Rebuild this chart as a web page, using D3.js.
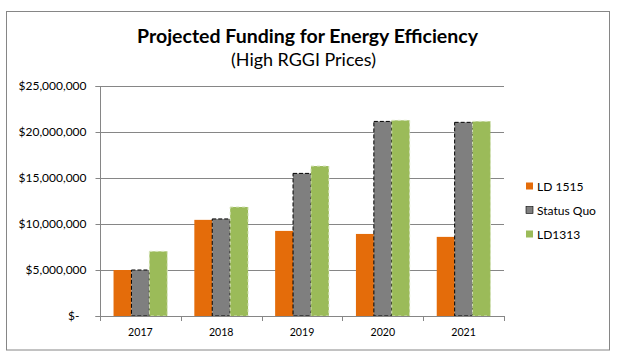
<!DOCTYPE html>
<html>
<head>
<meta charset="utf-8">
<script src="https://cdn.jsdelivr.net/npm/d3@7"></script>
<style>
  body { margin: 0; background: #fff; }
  svg { display: block; }
  text { font-family: Lato, "Liberation Sans", Arial, sans-serif; fill: #000; }
</style>
</head>
<body>
<svg id="chart" width="620" height="357"></svg>
<script>
const years = ["2017", "2018", "2019", "2020", "2021"];
const seriesNames = ["LD 1515", "Status Quo", "LD1313"];
const ld1515 = [5000000, 10450000, 9250000, 8920000, 8600000];
const statusQuo = [5000000, 10550000, 15500000, 21150000, 21050000];
const ld1313 = [7030000, 11850000, 16300000, 21270000, 21160000];
const yTicks = [0, 5000000, 10000000, 15000000, 20000000, 25000000];
const colors = ["#E46C0A", "#7F7F7F", "#9BBB59"];
const strokes = ["none", "#000000", "#D7E4BD"];

const seriesValues = [ld1515, statusQuo, ld1313];

(function () {
const svg = d3.select("#chart");
const pLeft = 100, pRight = 504, pTop = 86, pBottom = 316;
const FONT = "Lato, 'Liberation Sans', Arial, sans-serif";

// measure helper: font size that makes `str` as wide as `target`
function fitSize(str, target, weight) {
  const t = svg.append("text").attr("font-size", 20).attr("font-family", FONT)
    .attr("font-weight", weight || "normal").text(str);
  const w = t.node().getComputedTextLength();
  t.remove();
  return 20 * target / w;
}
const axisSize = fitSize("$25,000,000", 68);
const legSize = fitSize("Status Quo", 59);
const yearSize = fitSize("2017", 24.6);

// outer frame
svg.append("rect").attr("x", 6.5).attr("y", 11.5).attr("width", 603).attr("height", 338.5)
  .attr("fill", "#fff").attr("stroke", "#868686").attr("stroke-width", 1);

const x0 = d3.scaleBand().domain(years).range([pLeft, pRight]).padding(0);
const groupW = x0.bandwidth() * 0.665;
const x1 = d3.scaleBand().domain(seriesNames).range([0, groupW]).padding(0);
const y = d3.scaleLinear().domain([0, 25000000]).range([pBottom, pTop]);

// gridlines
svg.append("g").selectAll("line").data(yTicks.slice(1)).join("line")
  .attr("x1", pLeft).attr("x2", pRight)
  .attr("y1", d => Math.round(y(d)) + 0.5).attr("y2", d => Math.round(y(d)) + 0.5)
  .attr("stroke", "#868686").attr("stroke-width", 1);

// y axis
const fmt = d => d === 0 ? "$-" : "$" + d3.format(",")(d);
const yAxis = d3.axisLeft(y).tickValues(yTicks).tickFormat(fmt).tickSize(5).tickPadding(9);
const gy = svg.append("g").attr("transform", `translate(${pLeft + 0.5},0)`).call(yAxis);
gy.select(".domain").attr("stroke", "#868686").attr("d", `M-5,${pTop}.5H0V${pBottom}.5H-5`);
gy.selectAll(".tick line").attr("stroke", "#868686");
gy.selectAll(".tick text").attr("font-size", axisSize)
  .attr("font-family", FONT).attr("fill", "#000")
  .attr("dx", d => d === 0 ? -7 : 0);
gy.selectAll(".tick").attr("transform", d => `translate(0,${Math.round(y(d)) + 0.5})`);

// bars
const groups = svg.append("g").selectAll("g").data(years).join("g")
  .attr("transform", d => `translate(${x0(d) + (x0.bandwidth() - groupW) / 2},0)`);
groups.selectAll("rect").data((d, i) => seriesNames.map((s, j) => ({s, j, v: seriesValues[j][i]}))).join("rect")
  .attr("x", d => x1(d.s))
  .attr("y", d => y(d.v))
  .attr("width", x1.bandwidth())
  .attr("height", d => y(0) - y(d.v))
  .attr("fill", d => colors[d.j])
  .attr("stroke", d => strokes[d.j])
  .attr("stroke-width", d => d.j === 0 ? 0 : 1)
  .attr("stroke-dasharray", d => d.j === 1 ? "4,2" : "3,3");

// x axis
const xAxis = d3.axisBottom(x0).tickSize(0).tickPadding(12);
const gx = svg.append("g").attr("transform", `translate(0,${pBottom + 0.5})`).call(xAxis);
gx.select(".domain").attr("stroke", "#868686").attr("d", `M${pLeft},0H${pRight}`);
gx.selectAll(".tick text").attr("font-size", yearSize)
  .attr("font-family", FONT).attr("fill", "#000");
// category boundary ticks
const bounds = years.map(d => x0(d)).concat([pRight]);
svg.append("g").selectAll("line").data(bounds).join("line")
  .attr("x1", d => Math.round(d) + 0.5).attr("x2", d => Math.round(d) + 0.5)
  .attr("y1", pBottom).attr("y2", pBottom + 5)
  .attr("stroke", "#868686");

// title
svg.append("text").attr("x", 307.5).attr("y", 43).attr("text-anchor", "middle")
  .attr("font-size", fitSize("Projected Funding for Energy Efficiency", 341, "bold")).attr("font-weight", "bold")
  .text("Projected Funding for Energy Efficiency");
svg.append("text").attr("x", 303.5).attr("y", 66).attr("text-anchor", "middle")
  .attr("font-size", fitSize("(High RGGI Prices)", 145))
  .text("(High RGGI Prices)");

// legend
const legY = [186, 210, 234];
const leg = svg.append("g").selectAll("g").data(seriesNames).join("g")
  .attr("transform", (d, i) => `translate(526,${legY[i]})`);
leg.append("rect").attr("x", 0).attr("y", -3.5).attr("width", 7).attr("height", 7)
  .attr("fill", (d, i) => colors[i]).attr("stroke", (d, i) => i === 1 ? "#000" : "none").attr("stroke-width", 0.6);
leg.append("text").attr("x", 11).attr("y", 4.5).attr("font-size", legSize).text(d => d);
})();
</script>
</body>
</html>
